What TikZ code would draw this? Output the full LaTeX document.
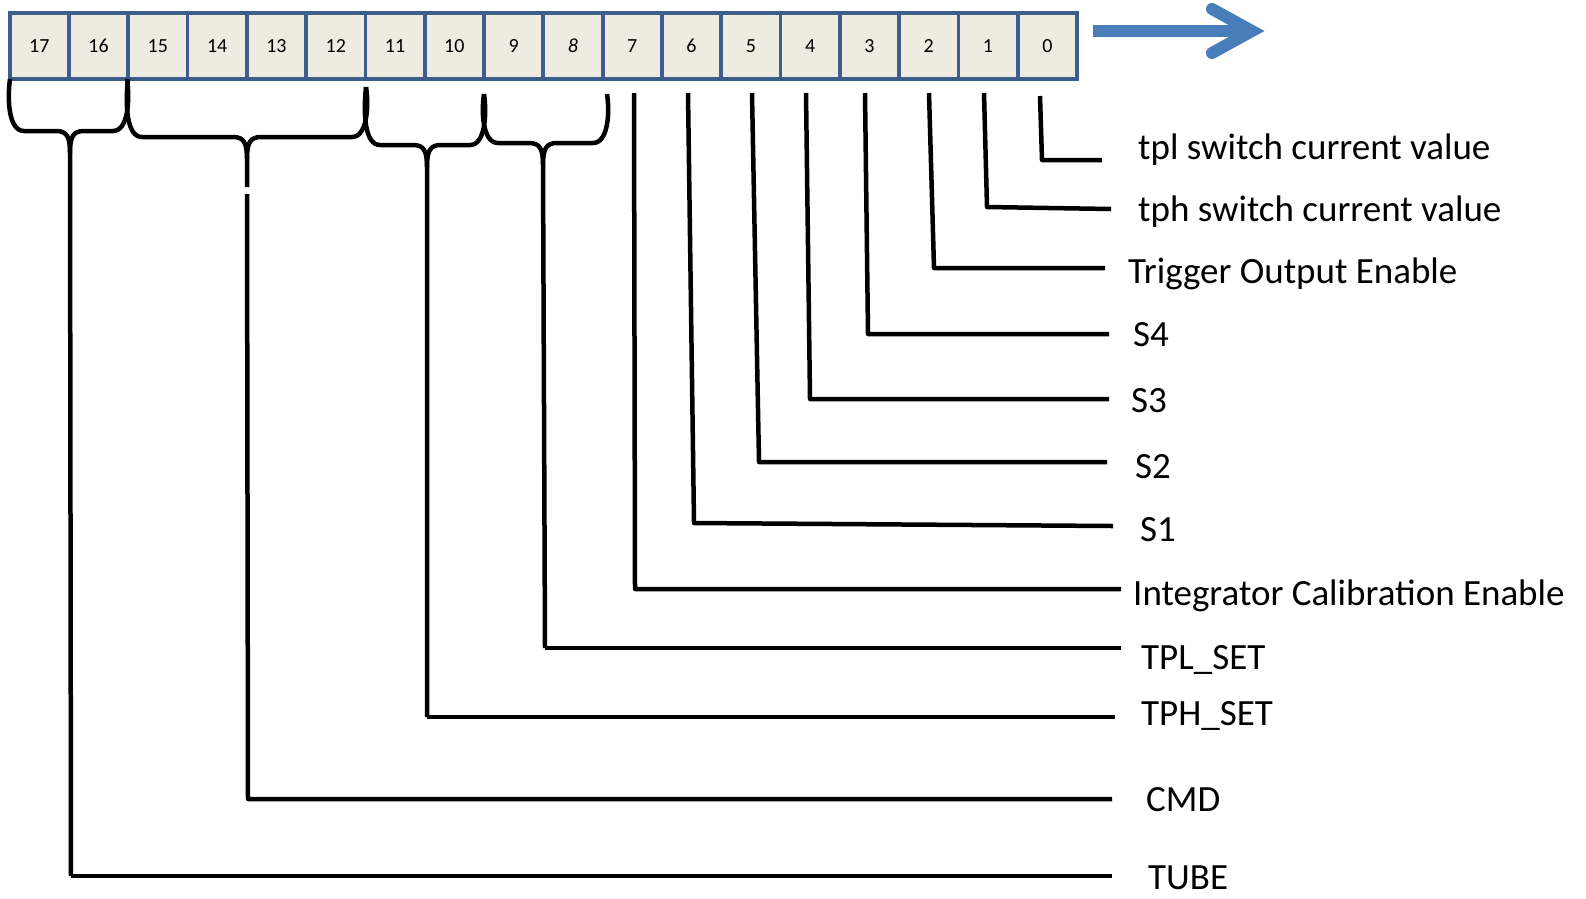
\documentclass[tikz,border=0pt]{standalone}
\usepackage{fontspec}
\setmainfont{Carlito}
\definecolor{cellfill}{RGB}{238,236,225}
\definecolor{cellline}{RGB}{60,94,140}
\definecolor{arrowblue}{RGB}{74,126,187}
\tikzset{
  cell/.style={draw=cellline, fill=cellfill, line width=3.8pt, minimum width=59.3pt,
    minimum height=65.5pt, inner sep=0pt, font=\fontsize{20}{22}\selectfont},
  conn/.style={draw=black, line width=4.5pt, line join=round},
  lbl/.style={anchor=west, inner sep=0pt, text height=24pt, text depth=0pt,
    font=\fontsize{37}{42}\selectfont},
  bluearrow/.style={draw=arrowblue, line width=12pt}
}
\newcommand\mybrace[8]{% xL yTL xR yTR yB xm yTip name
  \draw[conn] ({#1},{#2}) .. controls ({#1-3},{#5-30}) and ({#1-1},{#5}) .. ({#1+14},{#5})
     -- ({#6-14},{#5}) .. controls ({#6-3},{#5}) and ({#6},{#5+6}) .. ({#6},{#5+22}) -- (#8);
  \draw[conn] ({#3},{#4}) .. controls ({#3+3},{#5-30}) and ({#3+1},{#5}) .. ({#3-14},{#5})
     -- ({#6+14},{#5}) .. controls ({#6+3},{#5}) and ({#6},{#5+6}) .. ({#6},{#5+22});
}
\begin{document}
\begin{tikzpicture}[x=1pt,y=-1pt]
\useasboundingbox (0,0) rectangle (1586,898);
% cells
\foreach \i in {0,...,17}{
  \ifnum\i=8
    \node[cell] (c\i) at ({9.6+59.3*(17-\i)+29.65},46) {\itshape\i};
  \else
    \node[cell] (c\i) at ({9.6+59.3*(17-\i)+29.65},46) {\i};
  \fi
}
% arrow
\coordinate (a1) at (1093,31);
\coordinate (a2) at (1245,31);
\coordinate (a3) at (1252,31);
\coordinate (a4) at (1212,9);
\coordinate (a5) at (1212,53);
\draw[bluearrow] (a1) -- (a2);
\draw[bluearrow, line cap=round, line join=miter] (a4) -- (a3) -- (a5);
% labels
\node[lbl] (l0) at (1138,147) {tpl switch current value};
\node[lbl] (l1) at (1138,209) {tph switch current value};
\node[lbl] (l2) at (1128,271) {Trigger Output Enable};
\node[lbl] (l3) at (1133,334) {S4};
\node[lbl] (l4) at (1131,400) {S3};
\node[lbl] (l5) at (1135,466) {S2};
\node[lbl] (l6) at (1140,529) {S1};
\node[lbl] (l7) at (1133,593) {Integrator Calibration Enable};
\node[lbl] (l8) at (1141,657) {TPL\_SET};
\node[lbl] (l9) at (1141,713) {TPH\_SET};
\node[lbl] (l10) at (1146,799) {CMD};
\node[lbl] (l11) at (1148,877) {TUBE};
% single-bit connectors
\coordinate (t0) at (1040,96);  \coordinate (k0) at (1042,160); \coordinate (e0) at (1102,160);
\coordinate (t1) at (984,93);   \coordinate (k1) at (987,207);  \coordinate (e1) at (1111,209);
\coordinate (t2) at (929,93);   \coordinate (k2) at (934,268);  \coordinate (e2) at (1105,268);
\coordinate (t3) at (865,93);   \coordinate (k3) at (868,334);  \coordinate (e3) at (1109,334);
\coordinate (t4) at (806,93);   \coordinate (k4) at (810,399);  \coordinate (e4) at (1109,399);
\coordinate (t5) at (752,93);   \coordinate (k5) at (759,462);  \coordinate (e5) at (1107,462);
\coordinate (t6) at (688,93);   \coordinate (k6) at (694,523);  \coordinate (e6) at (1113,526);
\coordinate (t7) at (634,93);   \coordinate (k7) at (635,589);  \coordinate (e7) at (1121,589);
\foreach \i in {0,...,7}{
  \draw[conn] (t\i) -- (k\i) -- (e\i);
}
% group connectors
\coordinate (k8) at (545,648);  \coordinate (e8) at (1121,648);
\coordinate (k9) at (427,717);  \coordinate (e9) at (1115,717);
\coordinate (s10) at (247,194); \coordinate (k10) at (248,799); \coordinate (e10) at (1112,799);
\coordinate (k11) at (71,876);  \coordinate (e11) at (1112,876);
\coordinate (g10) at (247,187);
\mybrace{10}{79}{127}{79}{131}{70}{183}{k11}
\draw[conn] (k11) -- (e11);
\mybrace{128}{79}{366}{87}{137}{247}{187}{g10}
\draw[conn] (s10) -- (k10) -- (e10);
\mybrace{366}{87}{484}{94}{145}{427}{200}{k9}
\draw[conn] (k9) -- (e9);
\mybrace{484}{94}{607}{94}{143}{543}{200}{k8}
\draw[conn] (k8) -- (e8);
\end{tikzpicture}
\end{document}
